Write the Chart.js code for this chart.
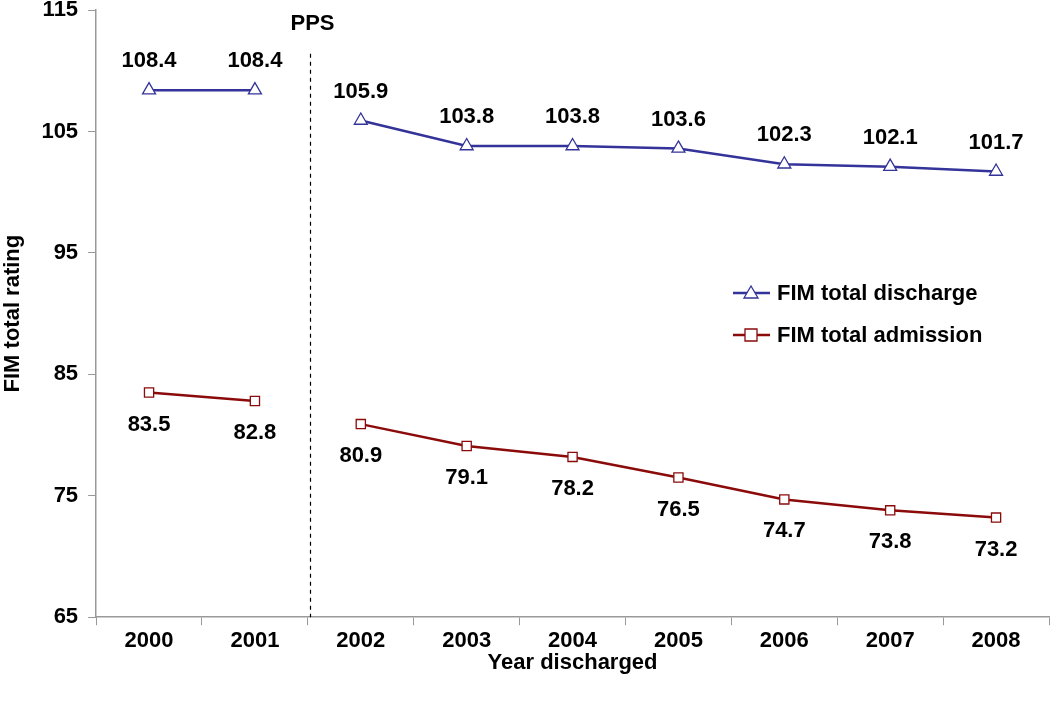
<!DOCTYPE html>
<html>
<head>
<meta charset="utf-8">
<script src="https://cdn.jsdelivr.net/npm/chart.js@4"></script>
<style>
  html, body { margin: 0; padding: 0; background: #fff; }
</style>
</head>
<body>
<canvas id="myChart" width="1050" height="702"></canvas>
<script>
// data
const years = ['2000', '2001', '2002', '2003', '2004', '2005', '2006', '2007', '2008'];
const discharge = [108.4, 108.4, 105.9, 103.8, 103.8, 103.6, 102.3, 102.1, 101.7];
const admission = [83.5, 82.8, 80.9, 79.1, 78.2, 76.5, 74.7, 73.8, 73.2];
const yTicks = [65, 75, 85, 95, 105, 115];

const blue = '#333399';
const red = '#8B0A0A';
const fam = '"Liberation Sans", Arial, sans-serif';
const font = 'bold 22px ' + fam;

// hide the segment across the PPS break (2001 -> 2002)
const gapSegment = {
    borderColor: ctx => ctx.p0DataIndex === 1 ? 'rgba(0,0,0,0)' : undefined
};

// value labels, PPS line and legend drawn by hand
const extras = {
    id: 'extras',
    afterDatasetsDraw(chart) {
        const c = chart.ctx;
        const x = chart.scales.x, y = chart.scales.y;
        c.save();
        c.font = font;
        c.fillStyle = '#000';
        c.textAlign = 'center';
        c.textBaseline = 'middle';
        chart.getDatasetMeta(0).data.forEach((pt, i) => {
            c.fillText(discharge[i].toFixed(1), pt.x, pt.y - 29);
        });
        chart.getDatasetMeta(1).data.forEach((pt, i) => {
            c.fillText(admission[i].toFixed(1), pt.x, pt.y + 32);
        });

        // PPS dashed line
        const px = Math.round((x.getPixelForValue(1) + x.getPixelForValue(2)) / 2) + 2.5;
        c.strokeStyle = '#000';
        c.lineWidth = 1.2;
        c.setLineDash([4, 4]);
        c.beginPath();
        c.moveTo(px, y.getPixelForValue(111.4));
        c.lineTo(px, y.bottom);
        c.stroke();
        c.setLineDash([]);
        c.fillText('PPS', px + 2, 24);

        // legend
        const items = [
            { label: 'FIM total discharge', color: blue, shape: 'triangle', yy: 293 },
            { label: 'FIM total admission', color: red, shape: 'rect', yy: 335 }
        ];
        items.forEach(it => {
            c.strokeStyle = it.color;
            c.lineWidth = 2.5;
            c.beginPath();
            c.moveTo(733, it.yy);
            c.lineTo(770, it.yy);
            c.stroke();
            c.lineWidth = 1.3;
            c.fillStyle = '#fff';
            c.beginPath();
            if (it.shape === 'triangle') {
                c.moveTo(751, it.yy - 7);
                c.lineTo(758, it.yy + 5);
                c.lineTo(744, it.yy + 5);
                c.closePath();
            } else {
                c.rect(745, it.yy - 6, 12, 12);
            }
            c.fill();
            c.stroke();
            c.fillStyle = '#000';
            c.textAlign = 'left';
            c.fillText(it.label, 777, it.yy + 1);
        });
        c.restore();
    }
};

new Chart(document.getElementById('myChart').getContext('2d'), {
    type: 'line',
    data: {
        labels: years,
        datasets: [{
            label: 'FIM total discharge',
            data: discharge,
            borderColor: blue,
            borderWidth: 2.5,
            pointStyle: 'triangle',
            pointRadius: 7.5,
            pointBorderWidth: 1.3,
            pointBackgroundColor: '#fff',
            pointBorderColor: blue,
            tension: 0,
            segment: gapSegment
        }, {
            label: 'FIM total admission',
            data: admission,
            borderColor: red,
            borderWidth: 2.5,
            pointStyle: 'rect',
            pointRadius: 6.5,
            pointBorderWidth: 1.3,
            pointBackgroundColor: '#fff',
            pointBorderColor: red,
            tension: 0,
            segment: gapSegment
        }]
    },
    options: {
        responsive: false,
        animation: false,
        layout: { autoPadding: false, padding: { top: 10, right: 1, left: 0, bottom: 26 } },
        plugins: {
            legend: { display: false },
            tooltip: { enabled: false }
        },
        scales: {
            x: {
                offset: true,
                afterFit: s => { s.paddingLeft = 0; s.paddingRight = 0; },
                grid: {
                    offset: true,
                    drawOnChartArea: false,
                    drawTicks: true,
                    tickLength: 8,
                    color: '#999'
                },
                border: { color: '#999', width: 1.5 },
                ticks: { color: '#000', font: { size: 22, weight: 'bold', family: fam }, padding: 3 },
                title: {
                    display: true,
                    text: 'Year discharged',
                    color: '#000',
                    font: { size: 22, weight: 'bold', family: fam },
                    padding: { top: -8, bottom: 0 }
                }
            },
            y: {
                min: 65,
                max: 115,
                afterBuildTicks: axis => { axis.ticks = yTicks.map(v => ({ value: v })); },
                afterFit: s => { s.paddingTop = 0; s.paddingBottom = 0; },
                grid: {
                    drawOnChartArea: false,
                    drawTicks: true,
                    tickLength: 8,
                    color: '#999'
                },
                border: { color: '#999', width: 1.5 },
                ticks: { color: '#000', font: { size: 22, weight: 'bold', family: fam }, padding: 10 },
                title: {
                    display: true,
                    text: 'FIM total rating',
                    color: '#000',
                    font: { size: 22, weight: 'bold', family: fam },
                    padding: { top: 0, bottom: 5 }
                }
            }
        }
    },
    plugins: [extras]
});
</script>
</body>
</html>
